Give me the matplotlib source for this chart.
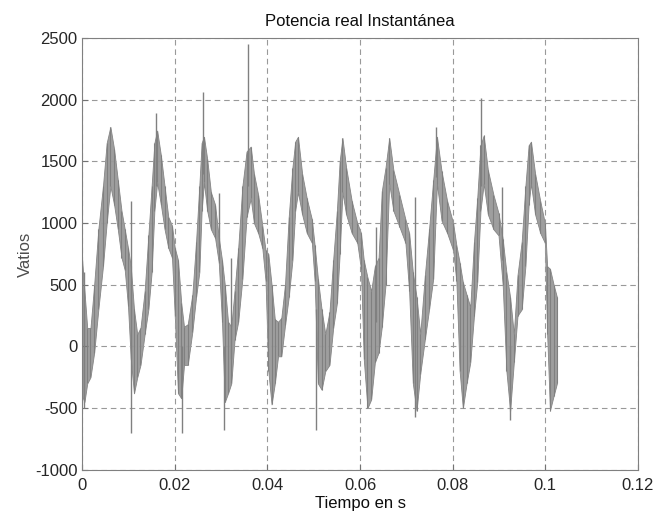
import matplotlib as mpl
from matplotlib import pyplot as plt
import numpy as np

mpl.rc('font', family=['Liberation Sans', 'DejaVu Sans'])
mpl.rc('axes', labelsize=12)
mpl.rc('axes', titlesize=12)
mpl.rc('xtick', labelsize=12)
mpl.rc('ytick', labelsize=12)
mpl.rc('axes', unicode_minus=False)

# envelope of the noisy trace (time in ms, watts)
t_ms = [0.0, 0.5, 1.1, 1.8, 2.6, 3.5, 4.5, 5.3, 6.1, 6.9, 7.7, 8.5, 9.2, 9.9, 10.5, 11.2, 11.9,
        12.6, 13.5, 14.3, 15.0, 15.6, 16.2, 17.0, 17.8, 18.6, 19.4, 20.0, 20.7, 21.4, 22.0,
        22.8, 23.8, 24.6, 25.3, 25.8, 26.3, 27.0, 27.8, 28.7, 29.5, 30.2, 30.8, 31.5, 32.2,
        32.9, 33.7, 34.6, 35.5, 36.4, 37.1, 38.0, 38.9, 39.6, 40.2, 40.9, 41.6, 42.3,
        43.0, 43.8, 44.6, 45.4, 46.0, 46.6, 47.5, 48.5, 49.6, 50.2, 50.9, 51.7, 52.5,
        53.4, 54.2, 55.0, 55.6, 56.2, 57.0, 58.2, 59.4, 60.2, 60.8, 61.6, 62.4,
        63.2, 64.0, 64.7, 65.5, 66.3, 67.2, 68.5, 69.8, 70.6, 71.4, 72.2, 73.0,
        74.0, 74.9, 75.8, 76.6, 77.6, 78.8, 80.1, 80.8, 81.5, 82.2,
        83.0, 83.8, 84.6, 85.3, 86.0, 86.7, 87.6, 88.8, 89.9, 90.8, 91.6, 92.4, 93.2,
        94.0, 94.9, 95.7, 96.4, 96.9, 97.8, 98.9, 99.9, 100.4, 101.0, 101.8, 102.5]
p_hi = [700, 450, 150, 150, 500, 950, 1300, 1650, 1780, 1600, 1350, 1100, 950, 800, 650, 300, 100,
        150, 450, 900, 1300, 1650, 1750, 1550, 1300, 1050, 980, 800, 700, 350, 160,
        180, 420, 850, 1300, 1650, 1700, 1520, 1250, 1150, 880, 700, 500, 200, 160,
        450, 800, 1300, 1580, 1620, 1400, 1230, 980, 780, 750, 500, 220, 200,
        230, 500, 1050, 1450, 1660, 1700, 1400, 1200, 1030, 820, 550, 300, 100,
        280, 700, 1100, 1500, 1690, 1450, 1180, 1000, 920, 700, 560, 450,
        650, 720, 1260, 1450, 1690, 1430, 1230, 1030, 920, 600, 400, 100,
        580, 950, 1350, 1700, 1420, 1180, 1000, 820, 680, 520,
        420, 320, 850, 1200, 1630, 1710, 1430, 1230, 1080, 870, 600, 400, 100,
        580, 850, 1300, 1630, 1660, 1400, 1180, 1000, 650, 630, 500, 400]
p_lo = [-400, -450, -300, -250, -50, 300, 650, 1000, 1300, 1150, 950, 720, 620, 330, -100, -380, -250,
        -150, 100, 300, 600, 1100, 1330, 1150, 950, 800, 720, 250, -380, -420, -150,
        -150, 120, 400, 600, 1100, 1330, 1100, 950, 880, 680, 200, -450, -380, -300,
        50, 200, 550, 1050, 1200, 1000, 920, 800, 530, -200, -470, -300, -80,
        -80, 170, 400, 700, 1100, 1250, 1070, 920, 840, 530, -300, -350, -200,
        -150, 150, 350, 750, 1250, 1070, 920, 840, 630, -100, -500, -430,
        -130, -50, 160, 500, 1320, 1100, 970, 840, 450, -300, -520, -220,
        60, 300, 550, 1320, 1020, 920, 780, 530, -200, -500,
        -300, -130, 250, 520, 1100, 1320, 1070, 950, 900, 500, -200, -520, -130,
        250, 300, 650, 1150, 1320, 1070, 920, 840, 100, -520, -400, -300]

# isolated spikes: time (ms), bottom, top
spike_t = [0.3, 10.5, 16.0, 21.6, 26.0, 29.5, 30.6, 32.1, 35.9, 50.5, 63.5, 71.8, 76.3, 86.1, 90.6, 92.4]
spike_lo = [-500, -700, 1300, -700, 1400, 800, -680, -100, 1300, -680, 200, -570, 1370, 1300, 700, -600]
spike_hi = [600, 1180, 1890, 0, 2060, 1240, 0, 720, 2450, 300, 970, 1210, 1780, 2010, 1290, 0]

t = np.array(t_ms) / 1000.0
st = np.array(spike_t) / 1000.0

fig = plt.figure(figsize=(6.57, 5.14), dpi=100)
ax = fig.add_axes([0.125, 0.086, 0.846, 0.84])

ax.fill_between(t, p_lo, p_hi, color='0.62', linewidth=0.6, edgecolor='0.52')
ax.vlines(t, p_lo, p_hi, color='0.5', linewidth=0.8)
ax.vlines(st, spike_lo, spike_hi, color='0.5', linewidth=1.0)

ax.set_xlim(0, 0.12)
ax.set_ylim(-1000, 2500)
ax.set_xticks([0, 0.02, 0.04, 0.06, 0.08, 0.1, 0.12])
ax.set_xticklabels(['0', '0.02', '0.04', '0.06', '0.08', '0.1', '0.12'])
ax.set_yticks(np.arange(-1000, 2501, 500))
ax.grid(True, linestyle=(0, (5, 3.5)), color='0.6', linewidth=0.8)
ax.tick_params(direction='in', length=4, color='0.45', labelcolor='0.15')
ax.tick_params(axis='x', pad=6)
for s in ax.spines.values():
    s.set_color('0.5')

ax.set_xlabel("Tiempo en s", color='0.05', labelpad=2)
ax.set_ylabel("Vatios", color='0.3', labelpad=1)
ax.set_title("Potencia real Instantánea", color='0.05', pad=9)

fig.savefig('out.png')
